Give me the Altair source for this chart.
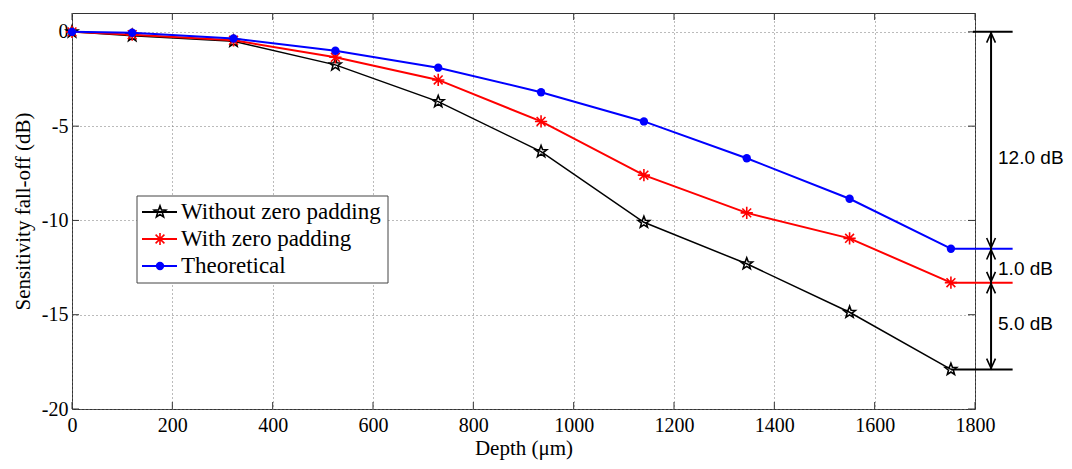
import altair as alt
import pandas as pd
import numpy as np

# ---- data ----
depth = [0, 120, 322, 525, 730, 935, 1140, 1345, 1550, 1752]
without_zp = [0, -0.2, -0.5, -1.75, -3.7, -6.35, -10.1, -12.3, -14.87, -17.9]
with_zp = [0, -0.15, -0.45, -1.35, -2.55, -4.75, -7.6, -9.6, -10.95, -13.3]
theoretical = [0, -0.05, -0.35, -1.0, -1.9, -3.2, -4.75, -6.7, -8.85, -11.5]

series_names = ["Without zero padding", "With zero padding", "Theoretical"]
series_colors = ["#000000", "#ff0000", "#0000ff"]

x_ticks = [0, 200, 400, 600, 800, 1000, 1200, 1400, 1600, 1800]
y_ticks = [-20, -15, -10, -5, 0]

ann_labels = ["12.0 dB", "1.0 dB", "5.0 dB"]
ann_label_y = [-6.7, -12.6, -15.5]
ann_arrow_x = 1832
ann_line_end_x = 1875

# ---- styles ----
W, H = 903, 396
SERIF = "Liberation Serif"
SANS = "Liberation Sans"

pts = []
for i in range(10):
    ang = -np.pi / 2 + i * np.pi / 5
    r = 1.0 if i % 2 == 0 else 0.42
    pts.append((r * np.cos(ang), r * np.sin(ang)))
STAR = "M" + "L".join(f"{x:.3f},{y:.3f}" for x, y in pts) + "Z"
ASTERISK = "M-1,0L1,0M0,-1L0,1M-0.72,-0.72L0.72,0.72M-0.72,0.72L0.72,-0.72"
ARROW_UP = "M-0.45,1L0,0L0.45,1"
ARROW_DOWN = "M-0.45,-1L0,0L0.45,-1"

x_scale = alt.Scale(domain=[0, 1800], nice=False, zero=False)
y_scale = alt.Scale(domain=[-20, 1], nice=False, zero=False)

values = [without_zp, with_zp, theoretical]
marker_shapes = [STAR, ASTERISK, "circle"]
marker_sizes = [150, 150, 70]
marker_filled = [False, False, True]
line_widths = [1.5, 2, 2]

layers = []

# axes / grid carrier
base_df = pd.DataFrame({"d": [0], "v": [0]})
axes_layer = alt.Chart(base_df).mark_point(opacity=0).encode(
    x=alt.X("d:Q", scale=x_scale, title="Depth (μm)",
            axis=alt.Axis(values=x_ticks, labelExpr="datum.value + ''", grid=True,
                          tickSize=0, domain=False,
                          labelPadding=6, titleBaseline="alphabetic", titleY=45,
                          labelFlush=False)),
    y=alt.Y("v:Q", scale=y_scale, title="Sensitivity fall-off (dB)",
            axis=alt.Axis(values=y_ticks, labelExpr="datum.value + ''", grid=True,
                          tickSize=0, domain=False,
                          labelPadding=4, titlePadding=8)),
)
layers.append(axes_layer)

# inward ticks (Matlab box style)
xt = pd.DataFrame({"t": x_ticks})
yt = pd.DataFrame({"t": y_ticks})
tick_color = "#333333"
layers.append(alt.Chart(xt).mark_rule(color=tick_color, strokeWidth=1).encode(
    x=alt.X("t:Q", scale=x_scale), y=alt.value(H), y2=alt.value(H - 7)))
layers.append(alt.Chart(xt).mark_rule(color=tick_color, strokeWidth=1).encode(
    x=alt.X("t:Q", scale=x_scale), y=alt.value(0), y2=alt.value(7)))
layers.append(alt.Chart(yt).mark_rule(color=tick_color, strokeWidth=1).encode(
    y=alt.Y("t:Q", scale=y_scale), x=alt.value(0), x2=alt.value(7)))
layers.append(alt.Chart(yt).mark_rule(color=tick_color, strokeWidth=1).encode(
    y=alt.Y("t:Q", scale=y_scale), x=alt.value(W), x2=alt.value(W - 7)))

# annotation horizontal extension lines
ends = [v[-1] for v in values]
ext_df = pd.DataFrame({
    "x0": [depth[-1]] * 3 + [1796],
    "x1": [ann_line_end_x] * 4,
    "y": ends + [0],
    "c": series_colors + ["#000000"],
})
layers.append(alt.Chart(ext_df).mark_rule(strokeWidth=2).encode(
    x=alt.X("x0:Q", scale=x_scale), x2="x1:Q",
    y=alt.Y("y:Q", scale=y_scale), color=alt.Color("c:N", scale=None)))

# series lines + markers
for name, vals, col, shp, sz, fl, lw in zip(series_names, values, series_colors,
                                             marker_shapes, marker_sizes, marker_filled, line_widths):
    df = pd.DataFrame({"depth": depth, "val": vals, "series": name})
    layers.append(alt.Chart(df).mark_line(color=col, strokeWidth=lw).encode(
        x=alt.X("depth:Q", scale=x_scale), y=alt.Y("val:Q", scale=y_scale)))
    if fl:
        pm = alt.Chart(df).mark_point(shape=shp, size=sz, filled=True, color=col, opacity=1)
    else:
        pm = alt.Chart(df).mark_point(shape=shp, size=sz, filled=False, color=col,
                                      strokeWidth=1.6, opacity=1)
    layers.append(pm.encode(x=alt.X("depth:Q", scale=x_scale), y=alt.Y("val:Q", scale=y_scale)))

# annotation arrows (between the end values)
tops = [0, ends[2], ends[1]]
bots = [ends[2], ends[1], ends[0]]
arr_df = pd.DataFrame({"x": [ann_arrow_x] * 3, "top": tops, "bot": bots,
                       "label": ann_labels, "ly": ann_label_y})
layers.append(alt.Chart(arr_df).mark_rule(color="black", strokeWidth=2).encode(
    x=alt.X("x:Q", scale=x_scale), y=alt.Y("top:Q", scale=y_scale), y2="bot:Q"))
layers.append(alt.Chart(arr_df).mark_point(shape=ARROW_UP, size=380, filled=False,
                                           color="black", strokeWidth=1.6, opacity=1).encode(
    x=alt.X("x:Q", scale=x_scale), y=alt.Y("top:Q", scale=y_scale), yOffset=alt.value(1)))
layers.append(alt.Chart(arr_df).mark_point(shape=ARROW_DOWN, size=380, filled=False,
                                           color="black", strokeWidth=1.6, opacity=1).encode(
    x=alt.X("x:Q", scale=x_scale), y=alt.Y("bot:Q", scale=y_scale), yOffset=alt.value(-1)))
layers.append(alt.Chart(arr_df).mark_text(font=SANS, fontSize=19, align="left",
                                          baseline="middle", color="black").encode(
    x=alt.X("x:Q", scale=x_scale), xOffset=alt.value(7),
    y=alt.Y("ly:Q", scale=y_scale), text="label:N"))

# legend (custom, Matlab style)
leg_df = pd.DataFrame({"name": series_names, "ly": [199, 226, 253]})
layers.append(alt.Chart(pd.DataFrame({"a": [0]})).mark_rect(
    fill="white", stroke="#444444", strokeWidth=1).encode(
    x=alt.value(65), x2=alt.value(316), y=alt.value(183), y2=alt.value(270)))
for i, (name, col, shp, sz, fl) in enumerate(zip(series_names, series_colors, marker_shapes,
                                                 marker_sizes, marker_filled)):
    d = leg_df.iloc[[i]]
    layers.append(alt.Chart(d).mark_rule(color=col, strokeWidth=2).encode(
        x=alt.value(70), x2=alt.value(105), y=alt.Y("ly:Q", scale=None)))
    if fl:
        lm = alt.Chart(d).mark_point(shape=shp, size=sz, filled=True, color=col, opacity=1)
    else:
        lm = alt.Chart(d).mark_point(shape=shp, size=sz, filled=False, color=col,
                                     strokeWidth=1.6, opacity=1)
    layers.append(lm.encode(x=alt.value(88), y=alt.Y("ly:Q", scale=None)))
layers.append(alt.Chart(leg_df).mark_text(font=SERIF, fontSize=23, align="left",
                                          baseline="middle", color="black").encode(
    x=alt.value(109), y=alt.Y("ly:Q", scale=None), text="name:N"))

chart = alt.layer(*layers).properties(
    width=W, height=H,
    background="white",
    autosize=alt.AutoSizeParams(type="none"),
    padding={"left": 64, "top": 5, "right": 89, "bottom": 52},
).configure_view(
    stroke="#333333", strokeWidth=1
).configure_axis(
    labelFont=SERIF, labelFontSize=20, labelColor="black",
    titleFont=SERIF, titleFontSize=21, titleFontWeight="normal", titleColor="black",
    gridColor="#777777", gridDash=[1, 3], gridWidth=1, gridOpacity=1,
)

chart.save("out.html", embed_options={"renderer": "svg", "actions": False})
